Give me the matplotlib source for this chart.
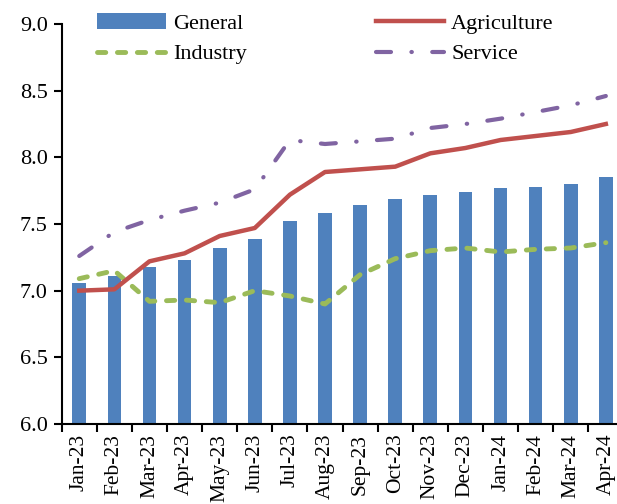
import matplotlib
matplotlib.use("Agg")
import matplotlib.pyplot as plt
import numpy as np

months = ["Jan-23", "Feb-23", "Mar-23", "Apr-23", "May-23", "Jun-23", "Jul-23", "Aug-23",
          "Sep-23", "Oct-23", "Nov-23", "Dec-23", "Jan-24", "Feb-24", "Mar-24", "Apr-24"]
general = [7.06, 7.11, 7.18, 7.23, 7.32, 7.39, 7.52, 7.58,
           7.64, 7.69, 7.72, 7.74, 7.77, 7.78, 7.80, 7.85]
agriculture = [7.00, 7.01, 7.22, 7.28, 7.41, 7.47, 7.72, 7.89,
               7.91, 7.93, 8.03, 8.07, 8.13, 8.16, 8.19, 8.25]
industry = [7.09, 7.15, 6.92, 6.93, 6.91, 7.00, 6.96, 6.90,
            7.12, 7.24, 7.30, 7.32, 7.29, 7.31, 7.32, 7.36]
service = [7.26, 7.44, 7.53, 7.60, 7.66, 7.76, 8.13, 8.10,
           8.12, 8.14, 8.22, 8.25, 8.29, 8.34, 8.39, 8.46]

plt.rcParams['font.family'] = ['Liberation Serif', 'DejaVu Serif']

fig = plt.figure(figsize=(6.17, 5.04), dpi=100)
ax = fig.add_axes([61.7 / 617, 80 / 504, 561.7 / 617, 400 / 504])

x = np.arange(len(months))
ax.bar(x, general, width=0.39, color='#4F81BD', label='General', zorder=1)
ax.plot(x, agriculture, color='#C0504D', lw=3.2, label='Agriculture', zorder=3)
ax.plot(x, industry, color='#9BBB59', lw=3.5, ls=(0, (1.7, 2.4)),
        dash_capstyle='round', label='Industry', zorder=2)
ax.plot(x, service, color='#8064A2', lw=3, ls=(0, (3.6, 4.9, 0.1, 4.9)),
        dash_capstyle='round', label='Service', zorder=2)

ax.set_xlim(-0.5, len(months) - 0.5)
ax.set_ylim(6.0, 9.0)
ax.set_yticks(np.arange(6.0, 9.01, 0.5))
ax.set_yticklabels([f"{v:.1f}" for v in np.arange(6.0, 9.01, 0.5)], fontsize=16)
ax.set_xticks(x)
ax.set_xticklabels(months, rotation=90, fontsize=15.5)
ax.set_xticks(np.arange(-0.5, len(months), 1), minor=True)
ax.tick_params(axis='x', which='major', length=0, pad=7)
ax.tick_params(axis='x', which='minor', length=6, width=1.5, direction='out')
ax.tick_params(axis='y', length=6, width=1.5, direction='out', pad=4)

for s in ['top', 'right']:
    ax.spines[s].set_visible(False)
for s in ['left', 'bottom']:
    ax.spines[s].set_linewidth(1.5)
    ax.spines[s].set_color('black')

h, l = ax.get_legend_handles_labels()
order = [l.index(n) for n in ['General', 'Industry', 'Agriculture', 'Service']]
fig.legend([h[i] for i in order], [l[i] for i in order], ncol=2, frameon=False,
           loc='upper left', bbox_to_anchor=(84 / 617, 1.0), fontsize=16,
           handlelength=3.1, handletextpad=0.3, columnspacing=5.8,
           labelspacing=0.45, borderaxespad=0.2)

fig.savefig('out.png', dpi=100)
